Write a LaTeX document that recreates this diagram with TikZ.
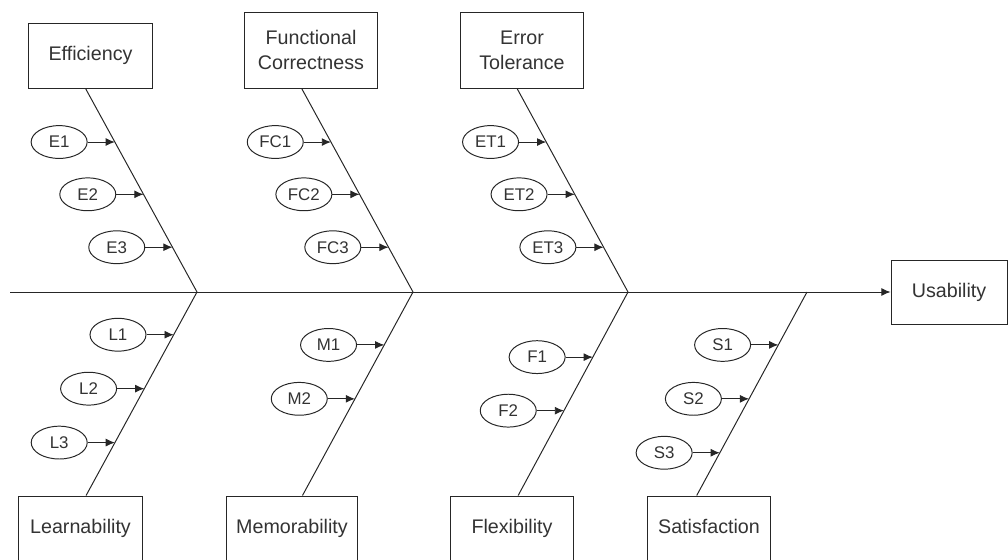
\documentclass[tikz,border=0pt]{standalone}
\usepackage{fontspec}
\setmainfont{Liberation Sans}
\usetikzlibrary{positioning,calc,shapes.geometric,arrows.meta}
\tikzset{
  bone/.style={draw=black!85,line width=.7pt},
  cat/.style={draw=black!85,line width=.7pt,align=center,inner sep=0pt,text=black!80,font=\fontsize{14}{18}\selectfont},
  lowcat/.style={cat,minimum height=1.65cm,text height=10pt,text depth=3pt},
  cause/.style={draw=black!85,ellipse,line width=.7pt,minimum width=1.4cm,minimum height=.82cm,inner sep=0pt,text=black!80,font=\fontsize{12}{14}\selectfont},
  arr/.style={-{Latex[length=2.3mm,width=2mm]},draw=black!85,line width=.7pt}
}
\begin{document}
\begin{tikzpicture}[x=.025cm,y=-.025cm]
\useasboundingbox (0,0) rectangle (1008,560);
% spine and effect
\coordinate (s0) at (10,292);
\coordinate (j1) at (197,292);\coordinate (j2) at (413,292);
\coordinate (j3) at (628,292);\coordinate (j4) at (807,292);
\node[cat,minimum width=2.9cm,minimum height=1.6cm] (use) at (949,292) {Usability};
\draw[arr] (s0) -- (use.west);
% upper categories
\node[cat,minimum width=3.075cm,minimum height=1.625cm] (eff) at (90.5,55.5) {Efficiency};
\node[cat,minimum width=3.3cm,minimum height=1.9cm] (fc) at (311,50) {Functional\\Correctness};
\node[cat,minimum width=3.05cm,minimum height=1.9cm] (et) at (522,50) {Error\\Tolerance};
\coordinate (a1) at ($(eff.south west)!.46!(eff.south east)$);
\coordinate (a2) at ($(fc.south west)!.43!(fc.south east)$);
\coordinate (a3) at ($(et.south west)!.46!(et.south east)$);
\draw[bone] (a1) -- (j1) (a2) -- (j2) (a3) -- (j3);
% lower categories
\node[lowcat,minimum width=3.075cm] (lrn) at (80.5,529) {Learnability};
\node[lowcat,minimum width=3.25cm] (mem) at (292,529) {Memorability};
\node[lowcat,minimum width=3.05cm] (flx) at (512,529) {Flexibility};
\node[lowcat,minimum width=3.05cm] (sat) at (709,529) {Satisfaction};
\coordinate (b1) at ($(lrn.north west)!.545!(lrn.north east)$);
\coordinate (b2) at ($(mem.north west)!.58!(mem.north east)$);
\coordinate (b3) at ($(flx.north west)!.55!(flx.north east)$);
\coordinate (b4) at ($(sat.north west)!.40!(sat.north east)$);
\draw[bone] (j1) -- (b1) (j2) -- (b2) (j3) -- (b3) (j4) -- (b4);
% causes
\foreach \f/\t [count=\i] in {.263/E1,.52/E2,.78/E3}{
  \coordinate (te\i) at ($(a1)!\f!(j1)$);
  \node[cause,left=.68cm of te\i] (e\i) {\t};
  \draw[arr] (e\i) -- (te\i);
}
\foreach \f/\t [count=\i] in {.263/FC1,.52/FC2,.78/FC3}{
  \coordinate (tfc\i) at ($(a2)!\f!(j2)$);
  \node[cause,left=.68cm of tfc\i] (fc\i) {\t};
  \draw[arr] (fc\i) -- (tfc\i);
}
\foreach \f/\t [count=\i] in {.263/ET1,.52/ET2,.78/ET3}{
  \coordinate (tet\i) at ($(a3)!\f!(j3)$);
  \node[cause,left=.68cm of tet\i] (et\i) {\t};
  \draw[arr] (et\i) -- (tet\i);
}
\foreach \f/\t [count=\i] in {.21/L1,.475/L2,.74/L3}{
  \coordinate (tl\i) at ($(j1)!\f!(b1)$);
  \node[cause,left=.68cm of tl\i] (l\i) {\t};
  \draw[arr] (l\i) -- (tl\i);
}
\foreach \f/\t [count=\i] in {.26/M1,.525/M2}{
  \coordinate (tm\i) at ($(j2)!\f!(b2)$);
  \node[cause,left=.68cm of tm\i] (m\i) {\t};
  \draw[arr] (m\i) -- (tm\i);
}
\foreach \f/\t [count=\i] in {.32/F1,.583/F2}{
  \coordinate (tf\i) at ($(j3)!\f!(b3)$);
  \node[cause,left=.68cm of tf\i] (f\i) {\t};
  \draw[arr] (f\i) -- (tf\i);
}
\foreach \f/\t [count=\i] in {.26/S1,.525/S2,.79/S3}{
  \coordinate (ts\i) at ($(j4)!\f!(b4)$);
  \node[cause,left=.68cm of ts\i] (s\i) {\t};
  \draw[arr] (s\i) -- (ts\i);
}
\end{tikzpicture}
\end{document}
